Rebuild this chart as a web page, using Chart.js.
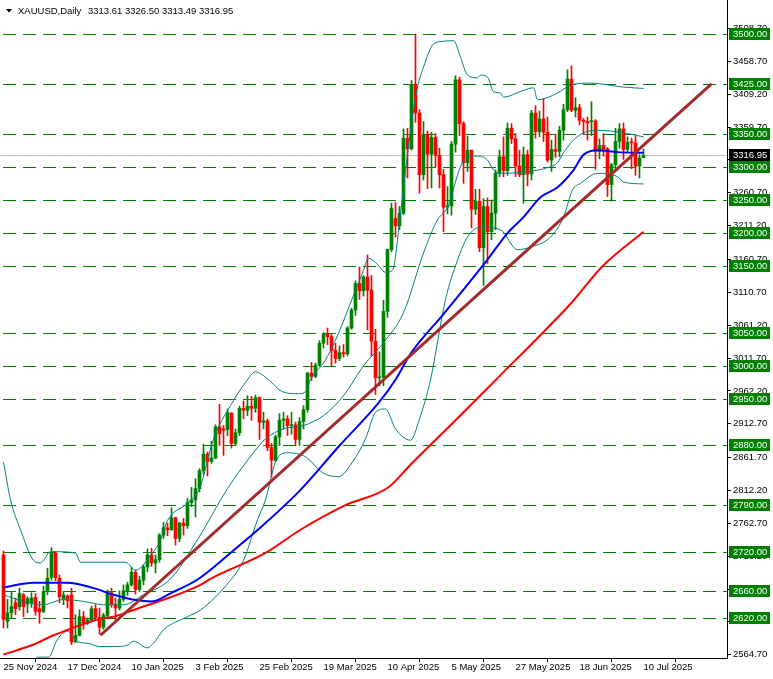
<!DOCTYPE html>
<html>
<head>
<meta charset="utf-8">
<title>XAUUSD Daily</title>
<script src="https://cdn.jsdelivr.net/npm/chart.js@4.4.1/dist/chart.umd.min.js"></script>
<style>
  html, body { margin: 0; padding: 0; background: #fff; }
  canvas { display: block; }
</style>
</head>
<body>
<canvas id="chart" width="773" height="679"></canvas>
<script>
const symbolTitle = 'XAUUSD,Daily';
const lastQuote = '3313.61 3326.50 3313.49 3316.95';
const lastPrice = 3316.95;

// daily candles, bar 0 = 25 Nov 2024, bar 160 = 10 Jul 2025
const opens = [
  2715,2615,2628,2643,2637,2655,2641,2643,2651,2634,
  2630,2660,2681,2718,2680,2649,2653,2655,2584,2594,
  2622,2612,2617,2634,2621,2606,2624,2658,2640,2635,
  2648,2661,2670,2689,2663,2677,2697,2715,2703,2708,
  2745,2756,2753,2771,2740,2763,2759,2794,2798,2815,
  2842,2867,2856,2861,2908,2905,2904,2929,2883,2899,
  2936,2933,2939,2936,2952,2915,2917,2877,2857,2893,
  2918,2920,2910,2911,2889,2916,2934,2989,2984,3001,
  3034,3048,3044,3023,3011,3020,3018,3057,3084,3124,
  3113,3134,3114,3037,2982,2983,3082,3175,3222,3211,
  3230,3343,3327,3424,3381,3288,3349,3319,3344,3317,
  3288,3239,3241,3334,3431,3365,3306,3325,3236,3248,
  3178,3240,3202,3230,3290,3315,3294,3358,3342,3301,
  3288,3318,3289,3381,3353,3372,3352,3310,3326,3323,
  3355,3386,3432,3385,3389,3370,3368,3368,3369,3323,
  3332,3327,3273,3303,3338,3357,3326,3337,3336,3301,
  3313.61
];
const highs = [
  2721,2648,2660,2650,2665,2657,2652,2658,2657,2645,
  2668,2695,2726,2720,2685,2660,2655,2665,2625,2632,
  2630,2620,2638,2640,2635,2627,2662,2665,2650,2661,
  2670,2674,2697,2692,2683,2700,2724,2725,2715,2747,
  2764,2763,2786,2772,2764,2770,2800,2817,2830,2845,
  2882,2870,2886,2911,2942,2910,2935,2929,2905,2939,
  2947,2955,2954,2956,2953,2930,2920,2883,2896,2928,
  2930,2925,2930,2915,2922,2940,2990,3005,3004,3038,
  3050,3057,3047,3034,3030,3032,3059,3087,3128,3149,
  3136,3167,3136,3055,3021,3099,3176,3245,3246,3240,
  3357,3358,3430,3500,3386,3368,3354,3352,3350,3328,
  3296,3270,3338,3437,3435,3368,3346,3325,3266,3266,
  3252,3253,3250,3295,3325,3345,3366,3365,3350,3325,
  3330,3325,3385,3392,3384,3403,3375,3340,3349,3361,
  3394,3446,3452,3404,3394,3373,3375,3398,3371,3342,
  3350,3329,3305,3358,3365,3366,3345,3343,3346,3318,
  3326.50
];
const lows = [
  2605,2605,2620,2625,2632,2622,2628,2636,2624,2612,
  2628,2655,2677,2676,2643,2640,2635,2580,2583,2593,
  2603,2610,2615,2617,2596,2603,2620,2636,2615,2632,
  2645,2654,2668,2656,2660,2670,2690,2698,2688,2704,
  2740,2744,2752,2730,2735,2745,2755,2788,2772,2810,
  2837,2834,2853,2860,2880,2865,2895,2876,2880,2895,
  2920,2925,2918,2930,2889,2905,2872,2832,2856,2880,
  2905,2895,2897,2880,2880,2905,2930,2978,2982,2999,
  3027,3032,2999,3004,3008,3013,3015,3055,3076,3100,
  3105,3054,3015,2957,2970,2970,3073,3172,3194,3205,
  3228,3283,3325,3367,3260,3280,3267,3268,3300,3268,
  3202,3229,3227,3322,3347,3275,3293,3208,3228,3172,
  3121,3154,3190,3205,3285,3285,3287,3335,3285,3285,
  3245,3271,3280,3343,3345,3338,3307,3293,3314,3315,
  3340,3383,3383,3375,3363,3349,3340,3347,3296,3312,
  3316,3255,3248,3297,3328,3311,3322,3297,3287,3283,
  3313.49
];
const closes = [
  2618,2628,2637,2634,2657,2637,2649,2650,2630,2629,
  2660,2680,2718,2681,2652,2655,2646,2584,2594,2622,
  2612,2617,2634,2621,2606,2624,2658,2640,2635,2648,
  2661,2670,2689,2663,2677,2697,2715,2703,2708,2745,
  2756,2753,2771,2740,2763,2759,2794,2798,2815,2842,
  2867,2856,2861,2908,2898,2903,2929,2883,2899,2936,
  2933,2939,2936,2952,2915,2917,2877,2858,2893,2918,
  2920,2910,2911,2889,2916,2934,2989,2984,3001,3034,
  3048,3044,3023,3011,3020,3018,3057,3084,3124,3113,
  3134,3114,3037,2982,2983,3082,3175,3237,3211,3230,
  3343,3327,3424,3381,3288,3349,3319,3344,3317,3288,
  3239,3241,3334,3431,3365,3306,3325,3236,3248,3178,
  3240,3202,3230,3290,3315,3294,3358,3342,3301,3288,
  3318,3289,3381,3353,3372,3352,3310,3326,3323,3355,
  3386,3432,3385,3389,3370,3368,3366,3369,3323,3332,
  3327,3273,3303,3338,3357,3326,3337,3336,3301,3313,
  3316.95
];

// indicator lines as [bar, price]
const maBlue = [
  [0,2666],[7.5,2673],[16,2673],[22.5,2665],[27.5,2655],[33,2647],[37,2645],[42,2658],
  [48.5,2678],[56.75,2718],[65.5,2763],[74.25,2813],[83.75,2878],[93.75,2944],[98,2979],
  [101.75,3018],[110,3078],[121,3160],[126,3200],[130,3224],[134.25,3254],[138.5,3269],
  [142.5,3295],[145,3318],[148.5,3325],[153.5,3322],[160,3321]
];
const maRed = [
  [0,2565],[7.5,2580],[12.5,2594],[16,2602],[21,2613],[24.25,2619],[27.5,2622],[32.5,2632],
  [49.25,2670],[51.75,2679],[65.5,2718],[74.25,2753],[85.5,2790],[96.25,2817],[101.75,2851],
  [113,2918],[124.25,2986],[135.5,3054],[142,3095],[149.75,3150],[160,3202]
];
const bandUpper = [
  [0,2855],[1.75,2798],[4.25,2753],[7.5,2707],[9.25,2703],[11.75,2720],[18,2718],[19.25,2704],
  [30.5,2704],[33,2692],[36.75,2714],[39.25,2737],[41,2767],[46,2793],[49,2815],[52.5,2890],
  [56.75,2940],[60.5,2975],[63,2991],[66.25,2979],[69.75,2961],[73.75,2958],[75.5,2961],
  [76.75,2979],[80.5,3009],[83.75,3049],[88,3114],[89.75,3140],[91.25,3162],[93,3156],
  [95.5,3141],[97.25,3144],[99.25,3230],[101.75,3355],[103.5,3420],[105,3450],[107.5,3485],
  [110,3489],[112.5,3490],[114.25,3465],[116,3438],[118.5,3434],[119.25,3438],[121,3435],
  [122.5,3413],[124.25,3411],[125,3405],[130,3415],[132.5,3419],[133.5,3401],[138.5,3411],
  [141.75,3423],[146.75,3426],[155,3420],[160,3418]
];
const bandMiddle = [
  [0,2655],[5,2645],[10,2640],[15,2648],[20,2645],[25,2640],[30,2640],[35,2655],[41.75,2679],
  [48.5,2738],[56,2815],[63,2873],[65.5,2890],[70,2905],[75,2910],[80,2925],[85,2955],
  [90,3000],[95,3035],[100,3080],[105,3170],[108.5,3220],[111,3239],[114.25,3300],[116,3315],
  [118.5,3316],[121,3310],[122.5,3295],[124.25,3290],[130,3292],[136.75,3300],[138.5,3306],
  [140,3321],[142.5,3340],[145,3351],[148.5,3355],[155,3351],[160,3345]
];
const bandLower = [
  [7,2545],[8.5,2561],[11.25,2561],[13.5,2588],[16,2600],[18.5,2584],[21,2582],[24,2577],
  [28,2577],[31,2579],[32.5,2585],[36,2575],[37.5,2582],[40,2602],[46,2622],[49.25,2632],
  [56.75,2677],[60,2707],[63.5,2768],[65.5,2798],[68,2855],[71,2869],[75.5,2863],[79.75,2839],
  [83.75,2833],[87.25,2855],[90.5,2890],[93,2930],[95.5,2935],[98,2905],[101.75,2888],
  [104,2920],[106.75,2979],[110.5,3100],[113.5,3159],[116,3194],[119.25,3209],[124.25,3205],
  [128.5,3175],[131.75,3179],[136.75,3194],[140,3224],[142.25,3265],[144.25,3275],
  [148.5,3290],[153.5,3285],[155,3277],[160,3274]
];
const trendLine = [[24.25,2594],[177,3425]];

const levels = [3500, 3425, 3350, 3300, 3250, 3200, 3150, 3050, 3000, 2950, 2880, 2790, 2720, 2660, 2620];

const priceTicks = [3508.70, 3458.70, 3409.20, 3359.70, 3311.20, 3260.70, 3211.20, 3160.70, 3110.70,
  3061.20, 3011.70, 2962.20, 2912.70, 2861.70, 2812.20, 2762.70, 2713.20, 2663.70, 2614.20, 2564.70];
const dateTicks = [0, 16, 32, 48, 64, 80, 96, 112, 128, 144, 160];
const dateLabels = ['25 Nov 2024', '17 Dec 2024', '10 Jan 2025', '3 Feb 2025', '25 Feb 2025',
  '19 Mar 2025', '10 Apr 2025', '5 May 2025', '27 May 2025', '18 Jun 2025', '10 Jul 2025'];

const FONT = '"Liberation Sans", Arial, sans-serif';
const candleColors = closes.map((c, i) => c >= opens[i] ? '#008000' : '#ff0000');
const toPts = arr => arr.map(([x, y]) => ({ x, y }));

function lineSet(points, color, width, order) {
  return {
    type: 'line',
    data: toPts(points),
    borderColor: color,
    borderWidth: width,
    pointRadius: 0,
    cubicInterpolationMode: 'monotone',
    order: order
  };
}

const levelsPlugin = {
  id: 'levels',
  beforeDatasetsDraw(chart) {
    const { ctx, chartArea: a, scales: { y } } = chart;
    ctx.save();
    ctx.lineWidth = 1;
    const py = Math.round(y.getPixelForValue(lastPrice)) + 0.5;
    ctx.strokeStyle = '#c0c0c0';
    ctx.beginPath();
    ctx.moveTo(a.left, py);
    ctx.lineTo(a.right, py);
    ctx.stroke();
    ctx.strokeStyle = '#008000';
    ctx.setLineDash([13, 7]);
    ctx.lineDashOffset = -3;
    levels.forEach(v => {
      const yy = Math.round(y.getPixelForValue(v)) + 0.5;
      ctx.beginPath();
      ctx.moveTo(a.left, yy);
      ctx.lineTo(a.right, yy);
      ctx.stroke();
    });
    ctx.restore();
  },
  afterDraw(chart) {
    const { ctx, chartArea: a, scales: { y } } = chart;
    ctx.save();
    ctx.font = '9.5px ' + FONT;
    ctx.textBaseline = 'middle';
    ctx.textAlign = 'left';
    const bx = a.right + 2;
    levels.forEach(v => {
      const yy = Math.round(y.getPixelForValue(v));
      ctx.fillStyle = '#008000';
      ctx.fillRect(bx, yy - 6, 41, 12);
      ctx.fillStyle = '#ffffff';
      ctx.fillText(v.toFixed(2), bx + 4, yy + 0.5);
    });
    const ly = Math.round(y.getPixelForValue(lastPrice));
    ctx.fillStyle = '#000000';
    ctx.fillRect(bx, ly - 6, 41, 12);
    ctx.fillStyle = '#ffffff';
    ctx.fillText(lastPrice.toFixed(2), bx + 4, ly + 0.5);

    // title
    ctx.fillStyle = '#000000';
    ctx.beginPath();
    ctx.moveTo(6, 9);
    ctx.lineTo(12, 9);
    ctx.lineTo(9, 12.5);
    ctx.closePath();
    ctx.fill();
    ctx.fillText(symbolTitle, 18, 11);
    ctx.fillText(lastQuote, 88, 11);
    ctx.restore();
  }
};

new Chart(document.getElementById('chart'), {
  type: 'bar',
  data: {
    datasets: [
      lineSet(trendLine, '#a52a2a', 3, -1),
      lineSet(maBlue, '#0000ff', 2, 0),
      lineSet(maRed, '#ff0000', 2, 0),
      lineSet(bandUpper, '#008080', 1, 0),
      lineSet(bandMiddle, '#008080', 1, 0),
      lineSet(bandLower, '#008080', 1, 0),
      {
        type: 'bar',
        data: opens.map((o, i) => ({ x: i, y: [o, closes[i]] })),
        backgroundColor: candleColors,
        borderWidth: 0,
        barThickness: 3,
        minBarLength: 1,
        grouped: false,
        order: 1
      },
      {
        type: 'bar',
        data: opens.map((o, i) => ({ x: i, y: [lows[i], highs[i]] })),
        backgroundColor: candleColors,
        borderWidth: 0,
        barThickness: 1,
        grouped: false,
        order: 2
      }
    ]
  },
  options: {
    responsive: false,
    devicePixelRatio: 1,
    animation: false,
    events: [],
    layout: { padding: 0, autoPadding: false },
    plugins: { legend: { display: false }, tooltip: { enabled: false }, title: { display: false } },
    scales: {
      x: {
        type: 'linear',
        position: 'bottom',
        min: -0.875,
        max: 180.875,
        offset: false,
        afterBuildTicks: s => { s.ticks = dateTicks.map(v => ({ value: v })); },
        afterFit: s => { s.height = 21; s.paddingLeft = 0; s.paddingRight = 0; },
        grid: { drawOnChartArea: false, drawTicks: true, tickLength: 4, color: '#000' },
        border: { color: '#000', width: 1 },
        ticks: {
          autoSkip: false,
          maxRotation: 0,
          align: 'start',
          padding: 0,
          color: '#000',
          font: { family: FONT, size: 9.5 },
          callback: v => dateLabels[dateTicks.indexOf(v)] || ''
        }
      },
      y: {
        type: 'linear',
        position: 'right',
        min: 2559.73,
        max: 3551.23,
        afterBuildTicks: s => { s.ticks = priceTicks.map(v => ({ value: v })); },
        afterFit: s => { s.width = 46; s.paddingTop = 0; s.paddingBottom = 0; },
        grid: { drawOnChartArea: false, drawTicks: true, tickLength: 4, color: '#000' },
        border: { color: '#000', width: 1 },
        ticks: {
          autoSkip: false,
          padding: 2,
          color: '#000',
          font: { family: FONT, size: 9.5 },
          callback: v => v.toFixed(2)
        }
      }
    }
  },
  plugins: [levelsPlugin]
});
</script>
</body>
</html>
